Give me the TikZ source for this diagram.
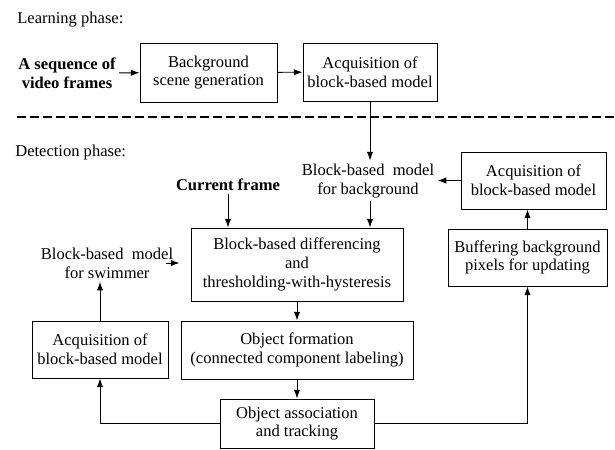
\documentclass[tikz,border=0pt]{standalone}
\usepackage{fontspec}
\setmainfont{Liberation Serif}
\usetikzlibrary{positioning, arrows.meta}
\tikzset{
    blockbox/.style 2 args={draw, semithick, align=center, inner sep=0pt,
        minimum width=#1*0.635pt, minimum height=#2*0.635pt},
    lbl/.style={align=center, inner sep=2pt},
    flow/.style={->, semithick}
}

\begin{document}
\fontsize{10.5pt}{12pt}\selectfont
\begin{tikzpicture}[x=0.635pt, y=-0.635pt, >={Latex[length=5.5pt,width=4pt]}]
    \useasboundingbox (0,0) rectangle (615,449);
    % learning phase
    \node[anchor=west, inner sep=0pt] (learn) at (17,20) {Learning phase:};
    \node[lbl, font=\bfseries] (seq) at (67,73) {A sequence of\\video frames};
    \node[blockbox={137}{59}] (bg) at (208.5,72.5) {Background\\scene generation};
    \node[blockbox={134}{58}] (acqA) at (370,72) {Acquisition of\\block-based model};
    \draw[flow] (seq) -- (bg);
    \draw[flow] (bg) -- (acqA);
    % phase separator
    \coordinate (sepL) at (17,117);
    \coordinate (sepR) at (615,117);
    \draw[line width=1.7pt, dash pattern=on 5.8pt off 2.5pt] (sepL) -- (sepR);
    % detection phase
    \node[anchor=west, inner sep=0pt] (detect) at (15,153) {Detection phase:};
    \node[lbl] (bgmodel) at (368,181) {Block-based~ model\\for background};
    \node[blockbox={145}{57}] (acqR) at (533.5,180.5) {Acquisition of\\block-based model};
    \node[blockbox={159}{57}] (buffer) at (527.5,257.5) {Buffering background\\pixels for updating};
    \node[lbl, font=\bfseries] (current) at (228,185) {Current frame};
    \node[blockbox={212}{73}] (diff) at (297,264.5)
        {Block-based differencing\\and\\thresholding-with-hysteresis};
    \node[lbl] (swim) at (107,263) {Block-based~ model\\for swimmer};
    \node[blockbox={136}{57}] (acqL) at (100,349.5) {Acquisition of\\block-based model};
    \node[blockbox={232}{58}] (objform) at (297,350)
        {Object formation\\(connected component labeling)};
    \node[blockbox={154}{49}] (assoc) at (297,423.5) {Object association\\and tracking};
    % connectors
    \draw[flow] (acqA.south) -- (acqA.south |- bgmodel.north);
    \draw[flow] (bgmodel.south -| acqA.south) -- (acqA.south |- diff.north);
    \draw[flow] (acqR.west) -- (acqR.west -| bgmodel.east);
    \draw[flow] (buffer.north) -- (buffer.north |- acqR.south);
    \draw[flow] (current.south) -- (current.south |- diff.north);
    \draw[flow] ([xshift=-7pt]swim.east) -- ([xshift=-7pt]swim.east -| diff.west);
    \draw[flow] (acqL.north) -- (acqL.north |- swim.south);
    \draw[flow] (diff) -- (objform);
    \draw[flow] (objform) -- (assoc);
    \draw[flow] (assoc.west) -| (acqL.south);
    \draw[flow] (assoc.east) -| (buffer.south);
\end{tikzpicture}
\end{document}
